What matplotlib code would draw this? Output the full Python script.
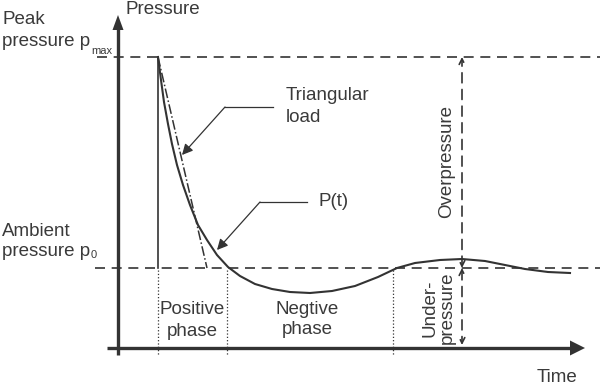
import matplotlib.pyplot as plt

plt.rcParams['font.family'] = ['Liberation Sans', 'DejaVu Sans']

# pressure-time history of a blast wave (arbitrary units, origin at axes crossing)
t_curve = [40, 43, 46, 50, 54, 59, 65, 72, 80, 89, 99, 110, 122, 137, 154, 172,
           192, 214, 237, 260, 279, 297, 322, 344, 367, 387, 407, 430, 452]
p_curve = [291, 268, 246, 224, 204, 183, 163, 143, 123, 108, 93, 81, 72, 64, 59, 56,
           55, 57, 62, 71, 80, 85, 88, 89, 87, 83, 79, 76, 75]

t_arrival = 40
t_tri_end = 89
phase_ends = [40, 109, 275]
p_max = 291
p_0 = 80
t_measure = 344

ink = '#333333'
txt = '#3a3a3a'

fig = plt.figure(figsize=(6, 3.86), dpi=100)
ax = fig.add_axes([0, 0, 1, 1])
ax.set_xlim(-118, 482)
ax.set_ylim(-38, 348)
ax.axis('off')

# axes with arrow heads
ax.plot([0, 0], [-7, 320], color=ink, lw=2.4, solid_capstyle='butt')
ax.fill([-5.5, 5.5, 0], [318, 318, 333], color=ink, lw=0)
ax.plot([-11, 455], [0, 0], color=ink, lw=2.4, solid_capstyle='butt')
ax.fill([452, 452, 467], [-7.5, 7.5, 0], color=ink, lw=0)

# reference pressure levels
ax.plot([-21, 482], [p_max, p_max], color=ink, lw=1.2, ls=(0, (6, 4)))
ax.plot([-23, 482], [p_0, p_0], color=ink, lw=1.2, ls=(0, (6, 4)))

# pressure history, jump and triangular idealisation
ax.plot(t_curve, p_curve, color=ink, lw=1.5)
ax.plot([t_arrival, t_arrival], [p_0, p_max], color=ink, lw=1.2)
ax.plot([t_arrival, t_tri_end], [p_max, p_0], color=ink, lw=1.1, ls='-.')

# phase boundaries
for tb in phase_ends:
    ax.plot([tb, tb], [p_0 - 2, -7], color=ink, lw=0.9, ls=':')

# over / under pressure dimension arrows
ax.annotate('', xy=(t_measure, p_max), xytext=(t_measure, p_0),
            arrowprops=dict(arrowstyle='<->', color=ink, lw=1.2, ls=(0, (6, 4)),
                            shrinkA=0, shrinkB=0, mutation_scale=10))
ax.annotate('', xy=(t_measure, 3), xytext=(t_measure, p_0),
            arrowprops=dict(arrowstyle='<->', color=ink, lw=1.2, ls=(0, (6, 4)),
                            shrinkA=0, shrinkB=0, mutation_scale=10))

# leaders
ax.plot([155, 107], [241, 241], color=ink, lw=0.9)
ax.annotate('', xy=(64, 193), xytext=(107, 241),
            arrowprops=dict(arrowstyle='-|>', color=ink, lw=0.9,
                            shrinkA=0, shrinkB=0, mutation_scale=16))
ax.plot([189, 142], [146, 146], color=ink, lw=0.9)
ax.annotate('', xy=(99, 98), xytext=(142, 146),
            arrowprops=dict(arrowstyle='-|>', color=ink, lw=0.9,
                            shrinkA=0, shrinkB=0, mutation_scale=16))

fs = 13.5
ax.text(7, 338, 'Pressure', fontsize=fs, color=txt, va='center', ha='left')
ax.text(439, -30, 'Time', fontsize=fs, color=txt, va='center', ha='center')
ax.text(-116, 328, 'Peak', fontsize=fs, color=txt, va='center', ha='left')
ax.text(-116, 306, 'pressure p', fontsize=fs, color=txt, va='center', ha='left')
ax.text(-27, 297, 'max', fontsize=8, color=txt, va='center', ha='left')
ax.text(-116, 117, 'Ambient', fontsize=fs, color=txt, va='center', ha='left')
ax.text(-116, 96, 'pressure p', fontsize=fs, color=txt, va='center', ha='left')
ax.text(-27, 93, '0', fontsize=8, color=txt, va='center', ha='left')
ax.text(168, 252, 'Triangular', fontsize=fs, color=txt, va='center', ha='left')
ax.text(168, 230, 'load', fontsize=fs, color=txt, va='center', ha='left')
ax.text(201, 146, 'P(t)', fontsize=fs, color=txt, va='center', ha='left')
ax.text(74, 38, 'Positive', fontsize=fs, color=txt, va='center', ha='center')
ax.text(74, 17, 'phase', fontsize=fs, color=txt, va='center', ha='center')
ax.text(189, 39, 'Negtive', fontsize=fs, color=txt, va='center', ha='center')
ax.text(189, 18, 'phase', fontsize=fs, color=txt, va='center', ha='center')
ax.text(329, 187, 'Overpressure', fontsize=fs, color=txt, va='center', ha='center',
        rotation=90)
ax.text(312, 40, 'Under-', fontsize=fs, color=txt, va='center', ha='center',
        rotation=90)
ax.text(329, 40, 'pressure', fontsize=fs, color=txt, va='center', ha='center',
        rotation=90)

fig.savefig('out.png', dpi=100)
